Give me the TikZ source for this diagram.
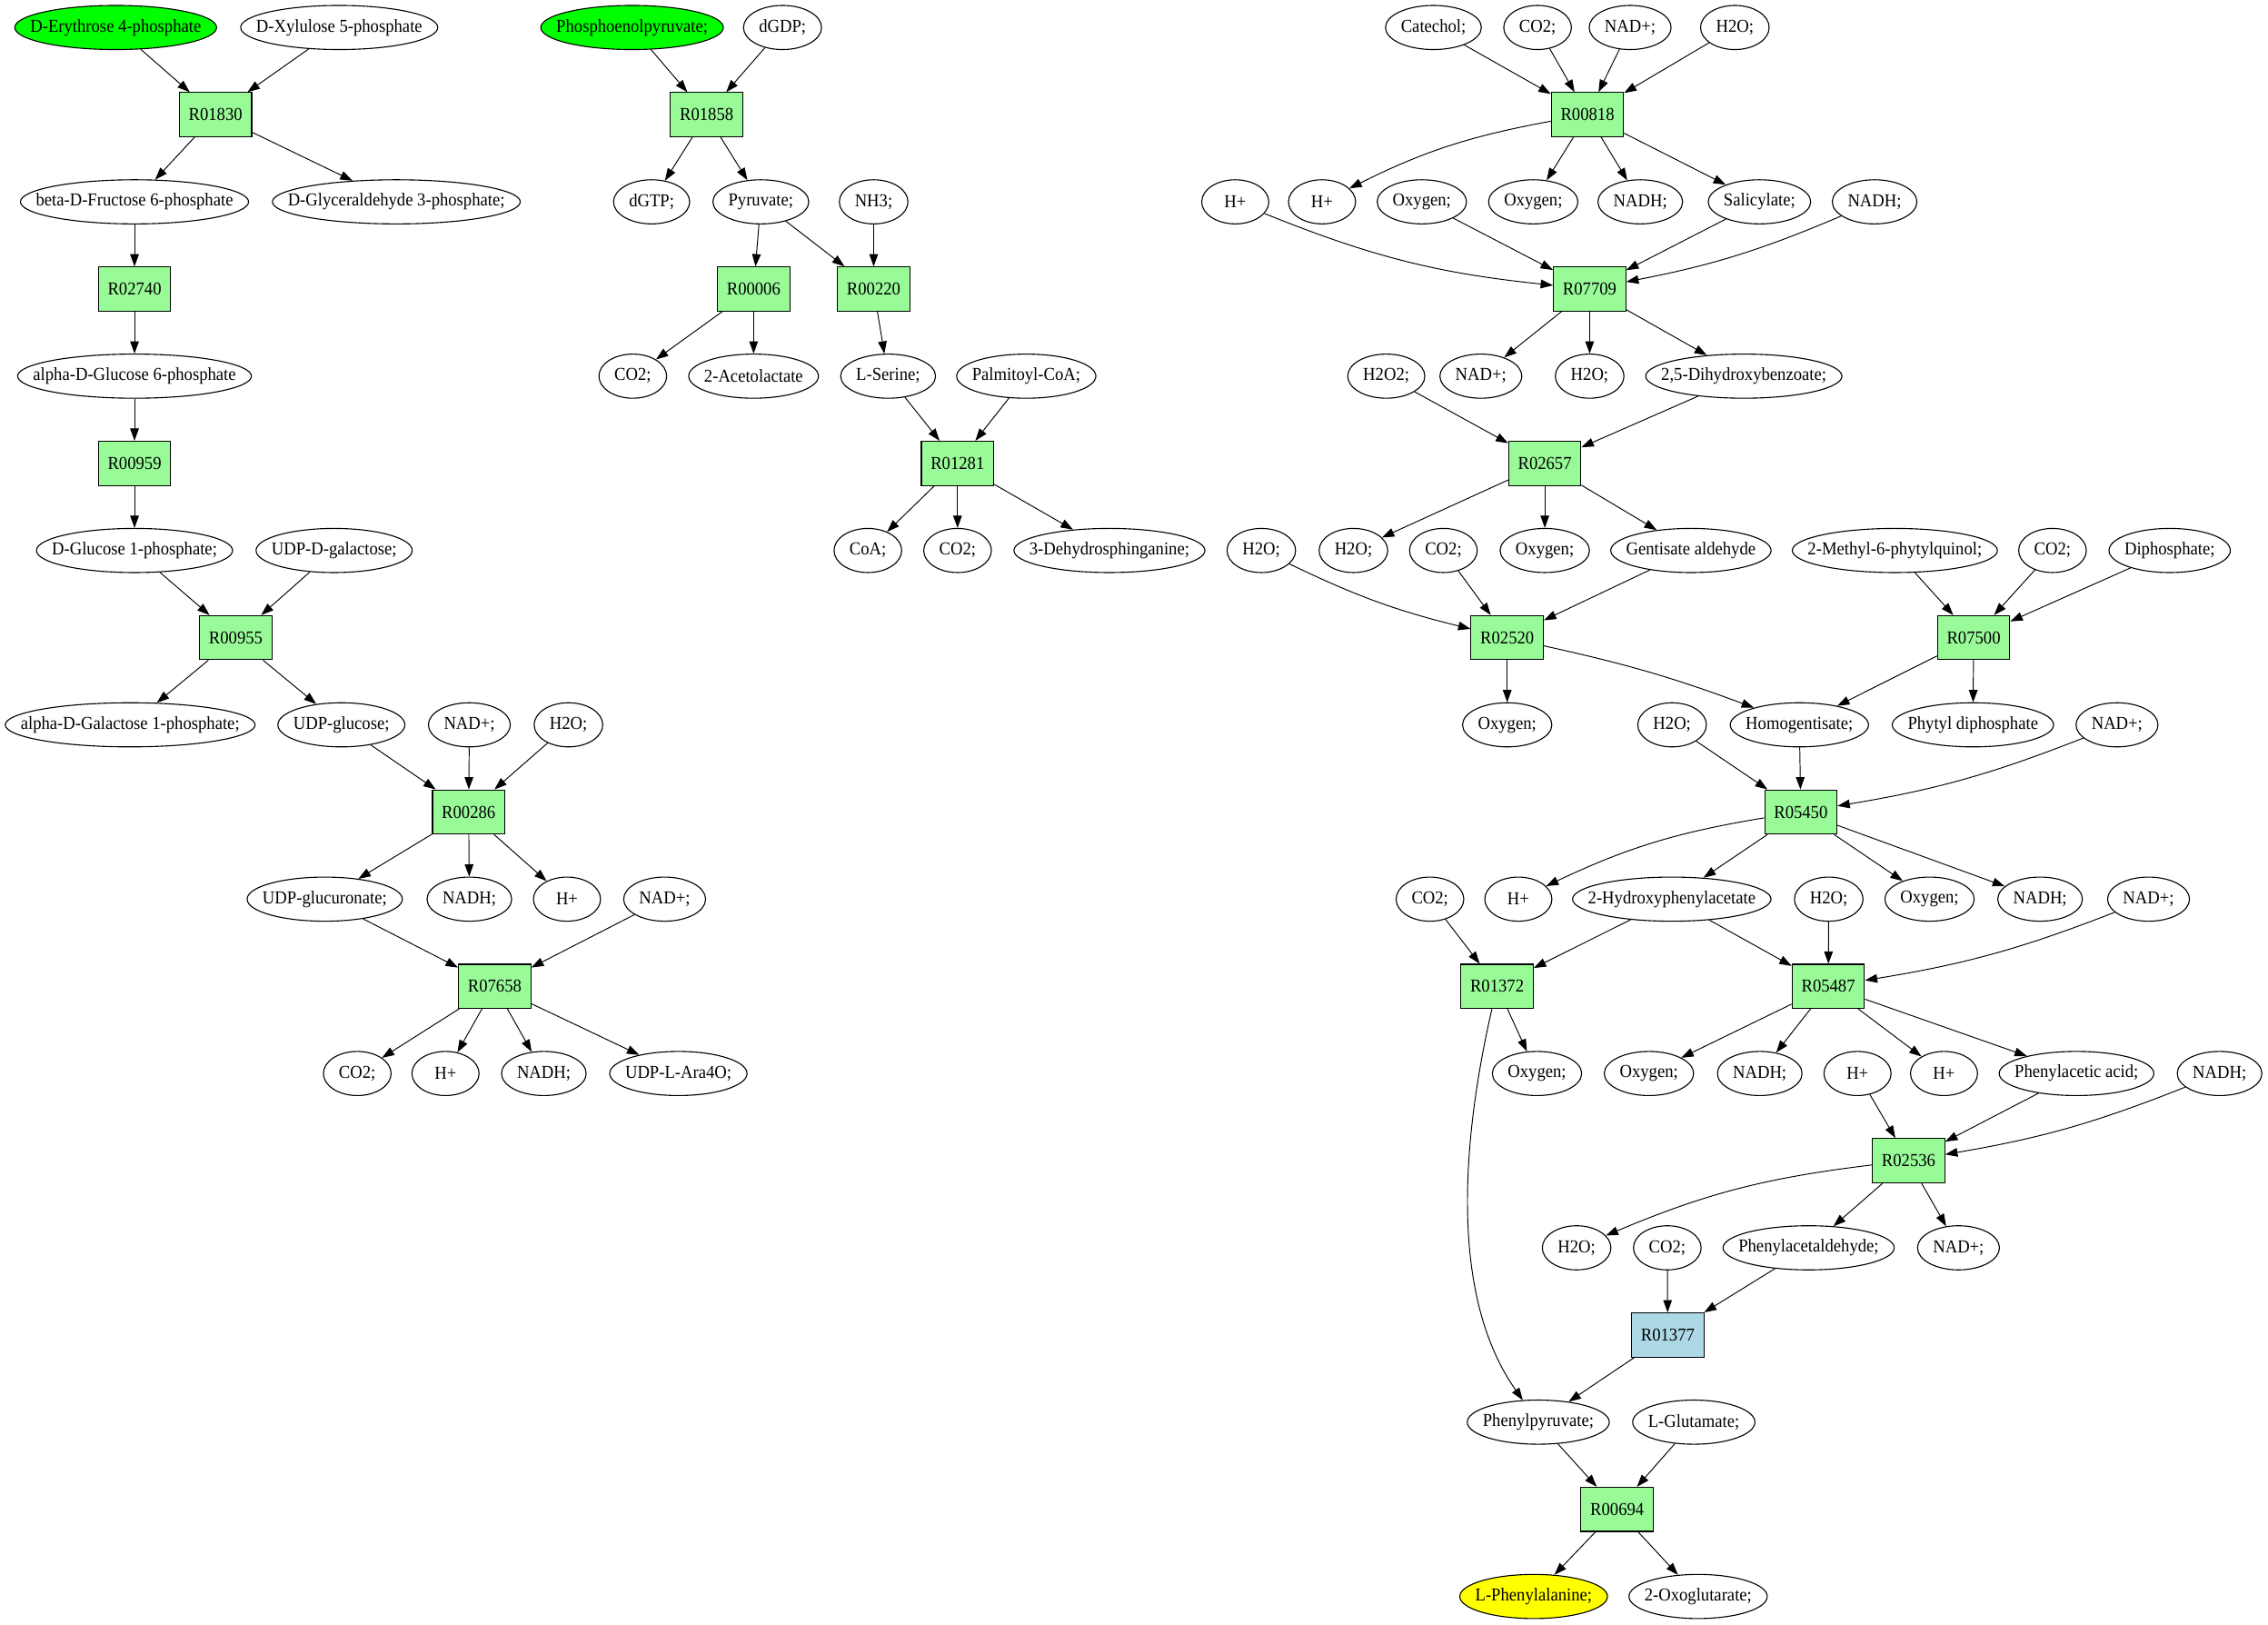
\documentclass[tikz,border=0pt]{standalone}
\usepackage{fontspec}
\setmainfont[FakeStretch=0.93]{Liberation Serif}
\usetikzlibrary{arrows.meta,shapes.geometric,calc}
\definecolor{pgreen}{RGB}{152,251,152}
\definecolor{lblue}{RGB}{173,216,230}
\definecolor{vgreen}{RGB}{0,255,0}
\definecolor{yel}{RGB}{255,255,0}
\newcommand\mfont{\fontsize{12.6}{15}\selectfont}
\newcommand\Met[5][white]{%
  \node[rectangle,inner ysep=0pt,inner xsep=10.5pt,minimum width=46pt] (#2tmp) at (#3,{19+60.25*#4}) {\phantom{#5}};
  \path let \p1=($(#2tmp.east)-(#2tmp.west)$) in
    node[met,fill=#1,minimum width=\x1] (#2) at (#3,{19+60.25*#4}) {\makebox[0pt]{#5}};}
\newcommand\Rxn[4][pgreen]{%
  \node[rbox,fill=#1] (#2) at (#3,{19+60.25*#4}) {#2};}
\tikzset{
  met/.style={ellipse,draw,line width=0.7pt,inner sep=0pt,minimum height=30.5pt},
  rbox/.style={rectangle,draw,line width=0.7pt,inner sep=0pt,minimum width=50pt,minimum height=30.5pt},
  edge/.style={line width=0.6pt,-{Triangle[length=8.5pt,width=6pt]}}
}
\begin{document}
\begin{tikzpicture}[x=1pt,y=-1pt,every node/.style={font=\mfont}]
\useasboundingbox[fill=white] (0,0) rectangle (1568,1122.6);
% row 0
\Met[vgreen]{e4p}{80}{0}{D-Erythrose 4-phosphate}
\Met{xu5p}{234.5}{0}{D-Xylulose 5-phosphate}
\Met[vgreen]{pep}{437}{0}{Phosphoenolpyruvate;}
\Met{dgdp}{541}{0}{dGDP;}
\Met{cat}{991}{0}{Catechol;}
\Met{co2a}{1063}{0}{CO2;}
\Met{nada}{1127}{0}{NAD+;}
\Met{h2oa}{1199.4}{0}{H2O;}
% row 1
\Rxn{R01830}{149}{1}
\Rxn{R01858}{488.5}{1}
\Rxn{R00818}{1097.5}{1}
% row 2
\Met{bf6p}{93}{2}{beta-D-Fructose 6-phosphate}
\Met{gap}{274}{2}{D-Glyceraldehyde 3-phosphate;}
\Met{dgtp}{450.5}{2}{dGTP;}
\Met{pyr}{526}{2}{Pyruvate;}
\Met{nh3}{604}{2}{NH3;}
\Met{hpa}{854}{2}{H+}
\Met{hpb}{914}{2}{H+}
\Met{oxa}{983}{2}{Oxygen;}
\Met{oxb}{1060}{2}{Oxygen;}
\Met{nadha}{1134}{2}{NADH;}
\Met{sal}{1216.4}{2}{Salicylate;}
\Met{nadhb}{1296}{2}{NADH;}
% row 3
\Rxn{R02740}{93}{3}
\Rxn{R00006}{521}{3}
\Rxn{R00220}{604}{3}
\Rxn{R07709}{1099}{3}
% row 4
\Met{ag6p}{93}{4}{alpha-D-Glucose 6-phosphate}
\Met{co2b}{437.5}{4}{CO2;}
\Met{acl}{521}{4}{2-Acetolactate}
\Met{lser}{614}{4}{L-Serine;}
\Met{palm}{709.5}{4}{Palmitoyl-CoA;}
\Met{h2o2}{958.4}{4}{H2O2;}
\Met{nadb}{1023.8}{4}{NAD+;}
\Met{h2ob}{1099}{4}{H2O;}
\Met{dhb}{1205.6}{4}{2,5-Dihydroxybenzoate;}
% row 5
\Rxn{R00959}{93}{5}
\Rxn{R01281}{662}{5}
\Rxn{R02657}{1068}{5}
% row 6
\Met{g1p}{93}{6}{D-Glucose 1-phosphate;}
\Met{udpgal}{231}{6}{UDP-D-galactose;}
\Met{coa}{600}{6}{CoA;}
\Met{co2c}{662}{6}{CO2;}
\Met{dhs}{767}{6}{3-Dehydrosphinganine;}
\Met{h2oc}{872}{6}{H2O;}
\Met{h2od}{935.7}{6}{H2O;}
\Met{co2d}{997.9}{6}{CO2;}
\Met{oxc}{1068}{6}{Oxygen;}
\Met{gent}{1169}{6}{Gentisate aldehyde}
\Met{mpq}{1310}{6}{2-Methyl-6-phytylquinol;}
\Met{co2e}{1419}{6}{CO2;}
\Met{diph}{1500}{6}{Diphosphate;}
% row 7
\Rxn{R00955}{163}{7}
\Rxn{R02520}{1042}{7}
\Rxn{R07500}{1364.5}{7}
% row 8
\Met{agal}{90}{8}{alpha-D-Galactose 1-phosphate;}
\Met{udpglc}{236}{8}{UDP-glucose;}
\Met{nadc}{324.5}{8}{NAD+;}
\Met{h2oe}{393}{8}{H2O;}
\Met{oxd}{1042}{8}{Oxygen;}
\Met{h2of}{1156}{8}{H2O;}
\Met{hga}{1244}{8}{Homogentisate;}
\Met{pdp}{1364}{8}{Phytyl diphosphate}
\Met{nadd}{1463.6}{8}{NAD+;}
% row 9
\Rxn{R00286}{324}{9}
\Rxn{R05450}{1245}{9}
% row 10
\Met{udpgla}{224.5}{10}{UDP-glucuronate;}
\Met{nadhc}{324.5}{10}{NADH;}
\Met{hpc}{392}{10}{H+}
\Met{nade}{459.5}{10}{NAD+;}
\Met{co2f}{988.6}{10}{CO2;}
\Met{hpd}{1049.7}{10}{H+}
\Met{hpac}{1155.8}{10}{2-Hydroxyphenylacetate}
\Met{h2og}{1264.3}{10}{H2O;}
\Met{oxe}{1334}{10}{Oxygen;}
\Met{nadhd}{1410.4}{10}{NADH;}
\Met{nadf}{1485.4}{10}{NAD+;}
% row 11
\Rxn{R07658}{342}{11}
\Rxn{R01372}{1035}{11}
\Rxn{R05487}{1264}{11}
% row 12
\Met{co2g}{247}{12}{CO2;}
\Met{hpe}{308}{12}{H+}
\Met{nadhe}{376}{12}{NADH;}
\Met{ara}{469}{12}{UDP-L-Ara4O;}
\Met{oxf}{1062.6}{12}{Oxygen;}
\Met{oxg}{1140}{12}{Oxygen;}
\Met{nadhf}{1216.6}{12}{NADH;}
\Met{hpf}{1284.2}{12}{H+}
\Met{hpg}{1344}{12}{H+}
\Met{paa}{1435.6}{12}{Phenylacetic acid;}
\Met{nadhg}{1534.5}{12}{NADH;}
% row 13
\Rxn{R02536}{1319.5}{13}
% row 14
\Met{h2oh}{1090}{14}{H2O;}
\Met{co2h}{1152.7}{14}{CO2;}
\Met{paald}{1250.4}{14}{Phenylacetaldehyde;}
\Met{nadg}{1354}{14}{NAD+;}
% row 15
\Rxn[lblue]{R01377}{1153}{15}
% row 16
\Met{ppy}{1063.5}{16}{Phenylpyruvate;}
\Met{lglu}{1171}{16}{L-Glutamate;}
% row 17
\Rxn{R00694}{1118}{17}
% row 18
\Met[yel]{lphe}{1060.3}{18}{L-Phenylalanine;}
\Met{og}{1174}{18}{2-Oxoglutarate;}
% straight edges
\foreach \a/\b in {e4p/R01830, xu5p/R01830, R01830/bf6p, R01830/gap, bf6p/R02740, R02740/ag6p,
  ag6p/R00959, R00959/g1p, g1p/R00955, udpgal/R00955, R00955/agal, R00955/udpglc,
  udpglc/R00286, nadc/R00286, h2oe/R00286, R00286/udpgla, R00286/nadhc, R00286/hpc,
  udpgla/R07658, nade/R07658, R07658/co2g, R07658/hpe, R07658/nadhe, R07658/ara,
  pep/R01858, dgdp/R01858, R01858/dgtp, R01858/pyr, pyr/R00006, pyr/R00220, nh3/R00220,
  R00006/co2b, R00006/acl, R00220/lser, lser/R01281, palm/R01281, R01281/coa, R01281/co2c, R01281/dhs,
  cat/R00818, co2a/R00818, nada/R00818, h2oa/R00818, R00818/oxb, R00818/nadha, R00818/sal,
  oxa/R07709, sal/R07709, R07709/nadb, R07709/h2ob, R07709/dhb, h2o2/R02657, dhb/R02657,
  R02657/h2od, R02657/oxc, R02657/gent, co2d/R02520, gent/R02520, mpq/R07500, co2e/R07500,
  diph/R07500, R02520/oxd, R07500/hga, R07500/pdp, h2of/R05450, hga/R05450, R05450/hpac,
  R05450/oxe, R05450/nadhd, co2f/R01372, hpac/R01372, hpac/R05487, h2og/R05487, R01372/oxf,
  R05487/oxg, R05487/nadhf, R05487/hpg, R05487/paa, hpf/R02536, paa/R02536, R02536/paald,
  R02536/nadg, co2h/R01377, paald/R01377, R01377/ppy, ppy/R00694, lglu/R00694,
  R00694/lphe, R00694/og}
  \draw[edge] (\a) -- (\b);
% curved edges
\draw[edge] (R00818) to[bend right=8] (hpb);
\draw[edge] (hpa) to[bend right=8] (R07709);
\draw[edge] (nadhb) to[bend left=6] (R07709);
\draw[edge] (h2oc) to[bend right=6] (R02520);
\draw[edge] (R02520) to[bend left=4] (hga);
\draw[edge] (nadd) to[bend left=6] (R05450);
\draw[edge] (R05450) to[bend right=8] (hpd);
\draw[edge] (nadf) to[bend left=6] (R05487);
\draw[edge] (nadhg) to[bend left=6] (R02536);
\draw[edge] (R02536) to[bend right=8] (h2oh);
\draw[edge] (R01372) .. controls (1008,800) and (1005,900) .. (ppy);
\end{tikzpicture}
\end{document}
